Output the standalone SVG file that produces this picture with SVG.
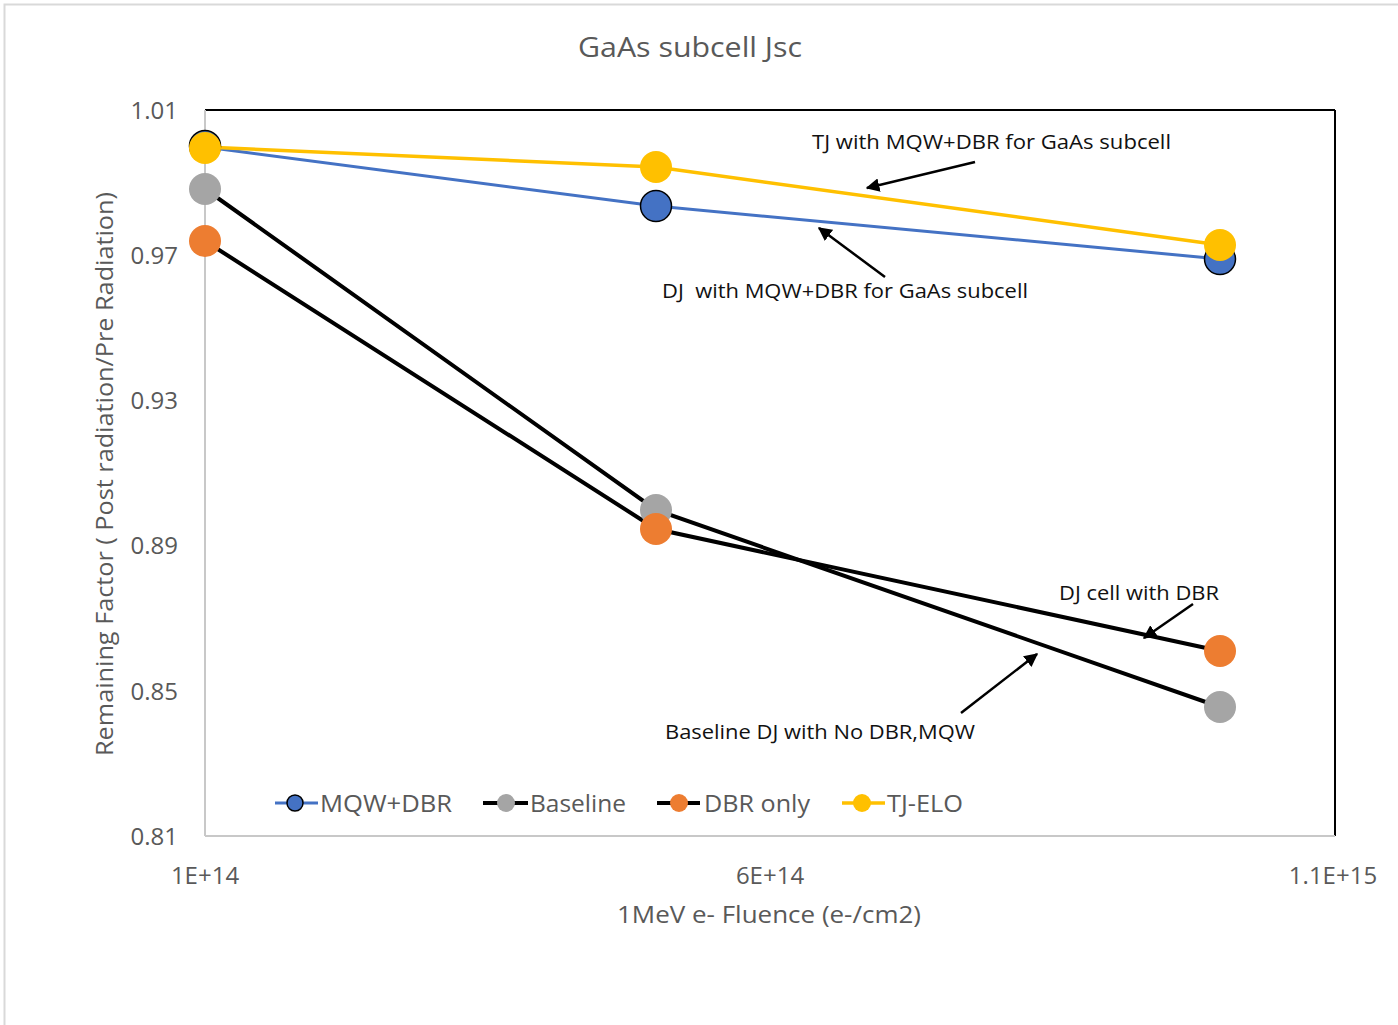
<svg xmlns="http://www.w3.org/2000/svg" width="1398" height="1025" viewBox="0 0 1398 1025">
<style>
.tick{font-family:"Open Sans","Liberation Sans",sans-serif;font-size:24px;fill:#595959}
.ttl{font-family:"Open Sans","Liberation Sans",sans-serif;fill:#595959}
.ann{font-family:"Open Sans","Liberation Sans",sans-serif;font-size:20px;fill:#111}
.leg{font-family:"Open Sans","Liberation Sans",sans-serif;font-size:23px;fill:#595959}
.arr{stroke:#000;stroke-width:2.5;fill:none}
</style>
<defs>
<marker id="ah" viewBox="0 0 10 10" refX="9" refY="5" markerWidth="5.5" markerHeight="5.5" orient="auto" markerUnits="strokeWidth">
<path d="M0,0 L10,5 L0,10 z" fill="#000"/>
</marker>
</defs>
<rect x="0" y="0" width="1398" height="1025" fill="#fff"/>
<path d="M4.5,1025 V4.5 H1398" fill="none" stroke="#d9d9d9" stroke-width="2"/>
<g id="title"><text class="ttl" x="690" y="57" font-size="27" text-anchor="middle" textLength="224" lengthAdjust="spacingAndGlyphs">GaAs subcell Jsc</text></g>
<g id="axes">
<line x1="205" y1="110" x2="1335" y2="110" stroke="#000" stroke-width="2"/>
<line x1="1335" y1="110" x2="1335" y2="836" stroke="#000" stroke-width="2"/>
<line x1="205" y1="110" x2="205" y2="836" stroke="#c8c8c8" stroke-width="2"/>
<line x1="205" y1="836" x2="1335" y2="836" stroke="#c8c8c8" stroke-width="2"/>
<g text-anchor="end">
<text class="tick" x="178" y="119">1.01</text>
<text class="tick" x="178" y="264">0.97</text>
<text class="tick" x="178" y="409">0.93</text>
<text class="tick" x="178" y="554">0.89</text>
<text class="tick" x="178" y="700">0.85</text>
<text class="tick" x="178" y="845">0.81</text>
</g>
<g text-anchor="middle">
<text class="tick" x="205" y="884">1E+14</text>
<text class="tick" x="770" y="884">6E+14</text>
<text class="tick" x="1333" y="884">1.1E+15</text>
</g>
<text class="ttl" x="769" y="923" font-size="23" text-anchor="middle" textLength="304" lengthAdjust="spacingAndGlyphs">1MeV e- Fluence (e-/cm2)</text>
<text class="ttl" font-size="23" text-anchor="middle" transform="translate(113,474) rotate(-90)" textLength="564" lengthAdjust="spacingAndGlyphs">Remaining Factor ( Post radiation/Pre Radiation)</text>
</g>
<g id="connectors">
<polyline points="205,147 656,206 1220,259" fill="none" stroke="#4472C4" stroke-width="3"/>
<polyline points="205,189 656,510 1220,707" fill="none" stroke="#000" stroke-width="4"/>
<polyline points="205,241 656,529 1220,651" fill="none" stroke="#000" stroke-width="4"/>
<polyline points="205,147 656,167 1220,245" fill="none" stroke="#FFC000" stroke-width="3.5"/>
<line class="arr" x1="975" y1="162" x2="867" y2="188" marker-end="url(#ah)"/>
<line class="arr" x1="885" y1="277" x2="819" y2="228" marker-end="url(#ah)"/>
<line class="arr" x1="1193" y1="604" x2="1144" y2="638" marker-end="url(#ah)"/>
<line class="arr" x1="961" y1="713" x2="1037" y2="654" marker-end="url(#ah)"/>
</g>
<g id="series-mqw-dbr" fill="#4472C4" stroke="#000" stroke-width="1.5">
<circle cx="205" cy="146" r="15.5"/>
<circle cx="656" cy="206" r="15.5"/>
<circle cx="1220" cy="259" r="15.5"/>
</g>
<g id="series-baseline" fill="#A5A5A5">
<circle cx="205" cy="189" r="16"/>
<circle cx="656" cy="510" r="16"/>
<circle cx="1220" cy="707" r="16"/>
</g>
<g id="series-dbr-only" fill="#ED7D31">
<circle cx="205" cy="241" r="16"/>
<circle cx="656" cy="529" r="16"/>
<circle cx="1220" cy="651" r="16"/>
</g>
<g id="series-tj-elo" fill="#FFC000">
<circle cx="205" cy="148" r="16"/>
<circle cx="656" cy="167" r="16"/>
<circle cx="1220" cy="245" r="16"/>
</g>
<g id="annotations">
<text class="ann" x="812" y="149" textLength="359" lengthAdjust="spacingAndGlyphs">TJ with MQW+DBR for GaAs subcell</text>
<text class="ann" x="662" y="298" xml:space="preserve" textLength="366" lengthAdjust="spacingAndGlyphs">DJ  with MQW+DBR for GaAs subcell</text>
<text class="ann" x="1059" y="600" textLength="160" lengthAdjust="spacingAndGlyphs">DJ cell with DBR</text>
<text class="ann" x="665" y="739" textLength="310" lengthAdjust="spacingAndGlyphs">Baseline DJ with No DBR,MQW</text>
</g>
<g id="legend">
<line x1="275" y1="803" x2="318" y2="803" stroke="#4472C4" stroke-width="3"/>
<circle cx="295" cy="803" r="8" fill="#4472C4" stroke="#000" stroke-width="1.5"/>
<text class="leg" x="320" y="812" textLength="132" lengthAdjust="spacingAndGlyphs">MQW+DBR</text>
<line x1="483" y1="803" x2="528" y2="803" stroke="#000" stroke-width="4"/>
<circle cx="506" cy="803" r="9" fill="#A5A5A5"/>
<text class="leg" x="530" y="812" textLength="96" lengthAdjust="spacingAndGlyphs">Baseline</text>
<line x1="657" y1="803" x2="700" y2="803" stroke="#000" stroke-width="4"/>
<circle cx="679" cy="803" r="9" fill="#ED7D31"/>
<text class="leg" x="704" y="812" textLength="106" lengthAdjust="spacingAndGlyphs">DBR only</text>
<line x1="842" y1="803" x2="885" y2="803" stroke="#FFC000" stroke-width="3.5"/>
<circle cx="862" cy="803" r="9" fill="#FFC000"/>
<text class="leg" x="887" y="812" textLength="76" lengthAdjust="spacingAndGlyphs">TJ-ELO</text>
</g>
</svg>
